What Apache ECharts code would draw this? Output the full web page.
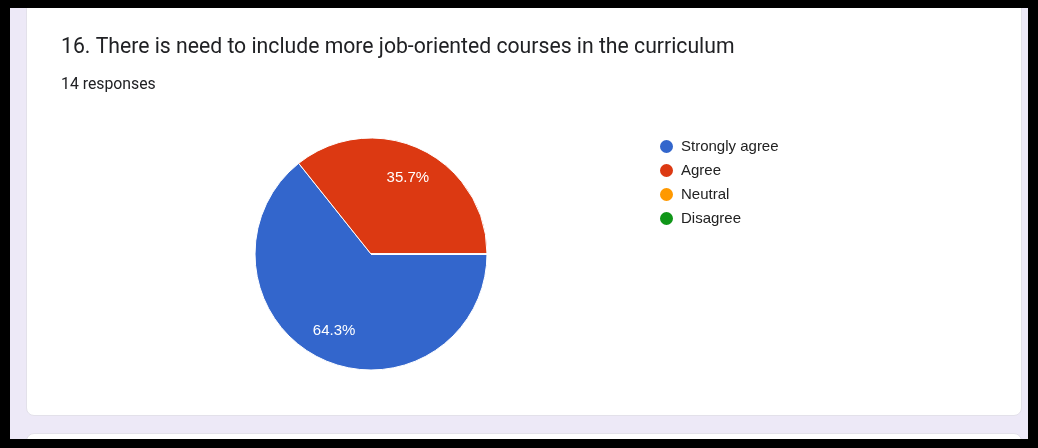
<!DOCTYPE html>
<html>
<head>
<meta charset="utf-8">
<script src="https://cdn.jsdelivr.net/npm/echarts@6/dist/echarts.min.js"></script>
<style>
  html, body {
    margin: 0;
    padding: 0;
    width: 1038px;
    height: 448px;
    background: #000;
    overflow: hidden;
  }
  .page {
    position: absolute;
    left: 10px;
    top: 8px;
    width: 1018px;
    height: 431px;
    background: #ede9f7;
    overflow: hidden;
  }
  .card {
    position: absolute;
    left: 16px;
    top: -10px;
    width: 994px;
    height: 416px;
    background: #fff;
    border: 1px solid #e3e1ea;
    border-radius: 8px;
  }
  .card.next {
    top: 425px;
    height: 40px;
  }
  #chart {
    position: absolute;
    left: 0;
    top: 0;
    width: 1038px;
    height: 448px;
  }
</style>
</head>
<body>
<div class="page">
  <div class="card"></div>
  <div class="card next"></div>
</div>
<div id="chart"></div>
<script>
const question = '16. There is need to include more job-oriented courses in the curriculum'
const responseText = '14 responses'
const answers = ['Strongly agree', 'Agree', 'Neutral', 'Disagree']
const counts = [9, 5, 0, 0]
const colors = ['#3366cc', '#dc3912', '#ff9900', '#109618']

const chart = echarts.init(document.getElementById('chart'))

const pieData = answers.map((name, i) => ({ name, value: counts[i] }))

// 0 的选项不显示标签
const percentLabel = (p) => (p.value > 0 ? p.percent.toFixed(1) + '%' : '')

chart.setOption({
  color: colors,
  title: [
    {
      text: question,
      left: 56,
      top: 32,
      textStyle: {
        fontFamily: 'Roboto',
        fontSize: 21.2,
        fontWeight: 'normal',
        color: '#202124',
      },
    },
    {
      text: responseText,
      left: 56,
      top: 72,
      textStyle: {
        fontFamily: 'Roboto',
        fontSize: 15.8,
        fontWeight: 'normal',
        color: '#202124',
      },
    },
  ],
  legend: {
    orient: 'vertical',
    left: 653,
    top: 133,
    icon: 'circle',
    itemWidth: 15,
    itemHeight: 15,
    itemGap: 7,
    data: answers,
    textStyle: {
      fontFamily: 'Arial',
      fontSize: 15,
      color: '#222',
      padding: [0, 0, 0, 2],
    },
  },
  series: [
    {
      type: 'pie',
      center: [371, 254],
      radius: [0, 116],
      startAngle: 0,
      clockwise: true,
      percentPrecision: 1,
      data: pieData,
      itemStyle: {
        borderColor: '#fff',
        borderWidth: 1,
      },
      label: { show: false },
      labelLine: { show: false },
      emphasis: { disabled: true },
    },
    {
      // 只用来摆放百分比标签，位置更靠外
      type: 'pie',
      center: [371, 254],
      radius: [48, 116],
      startAngle: 0,
      clockwise: true,
      silent: true,
      percentPrecision: 1,
      data: pieData,
      itemStyle: { color: 'rgba(0,0,0,0)' },
      label: {
        show: true,
        position: 'inside',
        formatter: percentLabel,
        fontFamily: 'Arial',
        fontSize: 15,
        color: '#fff',
      },
      labelLine: { show: false },
      emphasis: { disabled: true },
    },
  ],
})
</script>
</body>
</html>
